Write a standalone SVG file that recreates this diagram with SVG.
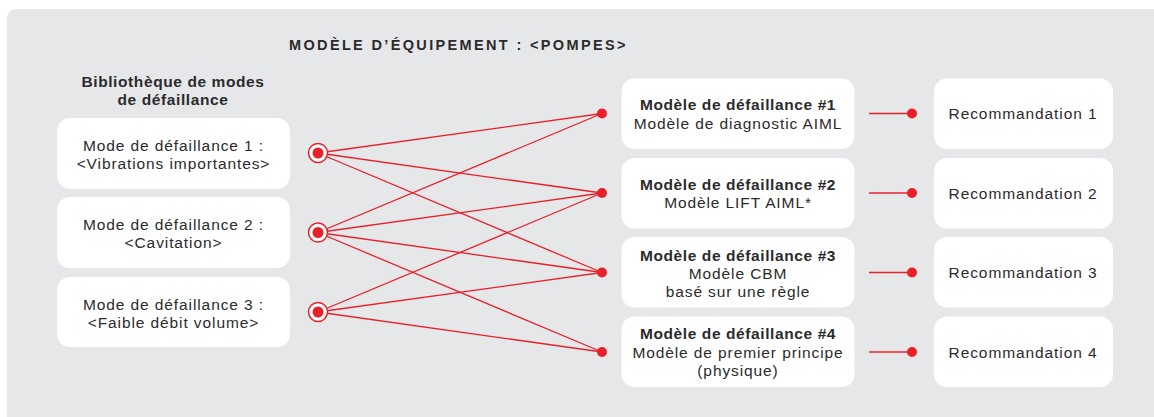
<svg xmlns="http://www.w3.org/2000/svg" width="1154" height="417" viewBox="0 0 1154 417">
  <style>
    .panel { fill: #e6e7e9; }
    .box { fill: #ffffff; }
    .t { font-family: "Liberation Sans", Arial, sans-serif; font-size: 15.5px; fill: #2b2b2b; text-anchor: middle; letter-spacing: 0.9px; }
    .b { font-weight: bold; letter-spacing: 0.6px; }
    .title { font-family: "Liberation Sans", Arial, sans-serif; font-size: 14.5px; font-weight: bold; fill: #2b2b2b; letter-spacing: 2.35px; }
    .link { stroke: #e8202a; stroke-width: 1.3; fill: none; }
    .stub { stroke: #e8202a; stroke-width: 1.6; fill: none; }
    .dot { fill: #e8202a; }
    .ring { fill: #ffffff; stroke: #e8202a; stroke-width: 1.5; }
  </style>

  <!-- background panel -->
  <rect class="panel" x="7" y="9" width="1160" height="420" rx="9"/>

  <text class="title" x="289" y="50">MODÈLE D’ÉQUIPEMENT : &lt;POMPES&gt;</text>

  <g id="library-heading">
    <text class="t b" x="173" y="86.5">Bibliothèque de modes<tspan x="173" dy="18">de défaillance</tspan></text>
  </g>

  <!-- connectors: failure modes to failure models, models to recommendations -->
  <g id="connectors">
    <line class="link" x1="318" y1="153" x2="602" y2="113.5"/>
    <line class="link" x1="318" y1="153" x2="602" y2="193"/>
    <line class="link" x1="318" y1="153" x2="602" y2="272.5"/>
    <line class="link" x1="318" y1="232.5" x2="602" y2="113.5"/>
    <line class="link" x1="318" y1="232.5" x2="602" y2="193"/>
    <line class="link" x1="318" y1="232.5" x2="602" y2="272.5"/>
    <line class="link" x1="318" y1="232.5" x2="602" y2="352"/>
    <line class="link" x1="318" y1="312" x2="602" y2="193"/>
    <line class="link" x1="318" y1="312" x2="602" y2="272.5"/>
    <line class="link" x1="318" y1="312" x2="602" y2="352"/>
    <circle class="dot" cx="602" cy="113.5" r="5"/>
    <circle class="dot" cx="602" cy="193" r="5"/>
    <circle class="dot" cx="602" cy="272.5" r="5"/>
    <circle class="dot" cx="602" cy="352" r="5"/>

    <line class="stub" x1="869" y1="113.5" x2="912" y2="113.5"/>
    <line class="stub" x1="869" y1="193" x2="912" y2="193"/>
    <line class="stub" x1="869" y1="272.5" x2="912" y2="272.5"/>
    <line class="stub" x1="869" y1="352" x2="912" y2="352"/>
    <circle class="dot" cx="912" cy="113.5" r="5"/>
    <circle class="dot" cx="912" cy="193" r="5"/>
    <circle class="dot" cx="912" cy="272.5" r="5"/>
    <circle class="dot" cx="912" cy="352" r="5"/>

    <circle class="ring" cx="318" cy="153" r="9.5"/>
    <circle class="dot" cx="318" cy="153" r="5.5"/>
    <circle class="ring" cx="318" cy="232.5" r="9.5"/>
    <circle class="dot" cx="318" cy="232.5" r="5.5"/>
    <circle class="ring" cx="318" cy="312" r="9.5"/>
    <circle class="dot" cx="318" cy="312" r="5.5"/>
  </g>

  <!-- failure modes -->
  <g id="mode-1">
    <rect class="box" x="57" y="118" width="233" height="71" rx="13"/>
    <text class="t" x="173.5" y="150.5">Mode de défaillance 1 :<tspan x="173.5" dy="18">&lt;Vibrations importantes&gt;</tspan></text>
  </g>
  <g id="mode-2">
    <rect class="box" x="57" y="197" width="233" height="71" rx="13"/>
    <text class="t" x="173.5" y="230">Mode de défaillance 2 :<tspan x="173.5" dy="18">&lt;Cavitation&gt;</tspan></text>
  </g>
  <g id="mode-3">
    <rect class="box" x="57" y="277" width="233" height="70" rx="13"/>
    <text class="t" x="173.5" y="309.5">Mode de défaillance 3 :<tspan x="173.5" dy="18">&lt;Faible débit volume&gt;</tspan></text>
  </g>

  <!-- failure models -->
  <g id="model-1">
    <rect class="box" x="621.5" y="78.5" width="233" height="70.5" rx="13"/>
    <text class="t" x="738" y="110"><tspan class="b">Modèle de défaillance #1</tspan><tspan x="738" dy="19">Modèle de diagnostic AIML</tspan></text>
  </g>
  <g id="model-2">
    <rect class="box" x="621.5" y="158" width="233" height="70.5" rx="13"/>
    <text class="t" x="738" y="190"><tspan class="b">Modèle de défaillance #2</tspan><tspan x="738" dy="18">Modèle LIFT AIML*</tspan></text>
  </g>
  <g id="model-3">
    <rect class="box" x="621.5" y="237" width="233" height="70.5" rx="13"/>
    <text class="t" x="738" y="260.5"><tspan class="b">Modèle de défaillance #3</tspan><tspan x="738" dy="18">Modèle CBM</tspan><tspan x="738" dy="18">basé sur une règle</tspan></text>
  </g>
  <g id="model-4">
    <rect class="box" x="621.5" y="316.5" width="233" height="70.5" rx="13"/>
    <text class="t" x="738" y="339"><tspan class="b">Modèle de défaillance #4</tspan><tspan x="738" dy="18.5">Modèle de premier principe</tspan><tspan x="738" dy="18">(physique)</tspan></text>
  </g>

  <!-- recommendations -->
  <g id="rec-1">
    <rect class="box" x="934" y="78.5" width="179" height="70.5" rx="13"/>
    <text class="t" x="1023" y="119.3">Recommandation  1</text>
  </g>
  <g id="rec-2">
    <rect class="box" x="934" y="158" width="179" height="70.5" rx="13"/>
    <text class="t" x="1023" y="199.3">Recommandation  2</text>
  </g>
  <g id="rec-3">
    <rect class="box" x="934" y="237" width="179" height="70.5" rx="13"/>
    <text class="t" x="1023" y="277.7">Recommandation  3</text>
  </g>
  <g id="rec-4">
    <rect class="box" x="934" y="316.5" width="179" height="70.5" rx="13"/>
    <text class="t" x="1023" y="358.3">Recommandation  4</text>
  </g>
</svg>
